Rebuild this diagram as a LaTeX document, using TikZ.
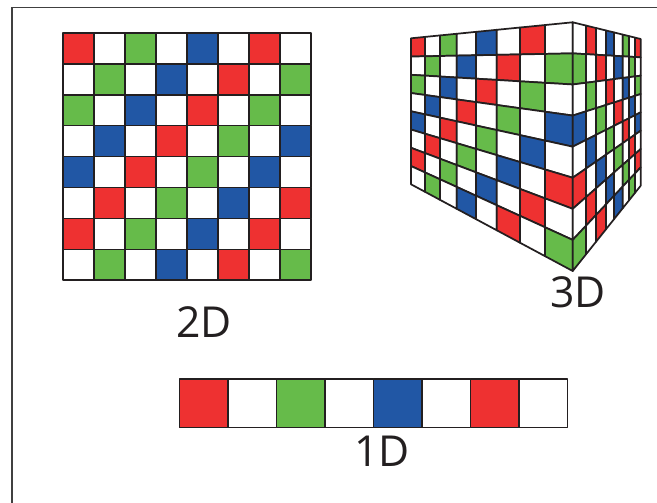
\documentclass[tikz,border=0pt]{standalone}
\usepackage{fontspec}
\setmainfont{Open Sans}
\definecolor{cR}{HTML}{EE3131}
\definecolor{cG}{HTML}{66BB4A}
\definecolor{cB}{HTML}{2157A5}
\definecolor{ln}{HTML}{231F20}
\newcommand{\pickcol}[1]{\ifcase#1\def\fc{cR}\or\def\fc{cG}\or\def\fc{cB}\fi}
\tikzset{
  cell/.style={draw=ln, line width=1.1pt, line join=round},
  cubecell/.style={draw=ln, line width=1.3pt, line join=round},
  lbl/.style={text=ln, font=\fontsize{32}{36}\selectfont, inner sep=0pt}
}
\begin{document}
\begin{tikzpicture}[x=0.75pt, y=-0.75pt]
\useasboundingbox (0,0) rectangle (657,503);
% frame
\draw[black!75, line width=0.8pt] (12,503) -- (12,7.5) -- (657,7.5);
% 2D grid
\foreach \r in {0,...,7}{
  \foreach \c in {0,...,7}{
    \pgfmathtruncatemacro\pty{mod(\r+\c,2)}
    \ifnum\pty=0
      \pgfmathtruncatemacro\k{mod((\r+\c)/2,3)}
      \pickcol{\k}
    \else \def\fc{white}\fi
    \draw[cell, fill=\fc] ({63+31*\c},{33+30.9*\r}) rectangle ++(31,30.9);
  }
}
% 1D strip
\foreach \c/\fc in {0/cR,1/white,2/cG,3/white,4/cB,5/white,6/cR,7/white}{
  \draw[cell, fill=\fc] ({179.3+48.5*\c},379) rectangle ++(48.5,48.7);
}
% 3D left face
\foreach \xa/\xb [count=\cc from 0] in {411/425,425/440,440/456.7,456.7/476,476/496.7,496.7/520,520/545,545/572.7}{
  \pgfmathsetmacro\ta{38.3-16*(\xa-411)/161.7}
  \pgfmathsetmacro\ba{184.3+86.7*(\xa-411)/161.7}
  \pgfmathsetmacro\tb{38.3-16*(\xb-411)/161.7}
  \pgfmathsetmacro\bb{184.3+86.7*(\xb-411)/161.7}
  \foreach \r in {0,...,7}{
    \pgfmathtruncatemacro\pty{mod(\r+\cc,2)}
    \ifnum\pty=0
      \pgfmathtruncatemacro\k{mod((\r+\cc)/2,3)}
      \pickcol{\k}
    \else \def\fc{white}\fi
    \draw[cubecell, fill=\fc]
      (\xa,{\ta+(\ba-\ta)*\r/8}) -- (\xb,{\tb+(\bb-\tb)*\r/8}) --
      (\xb,{\tb+(\bb-\tb)*(\r+1)/8}) -- (\xa,{\ta+(\ba-\ta)*(\r+1)/8}) -- cycle;
  }
}
% 3D right face (mirror of left face)
\foreach \xa/\xb [count=\cc from 0] in {572.7/586,586/596,596/606,606/614,614/622.7,622.7/629,629/635,635/640.7}{
  \pgfmathsetmacro\ta{22.3+16.7*(\xa-572.7)/68}
  \pgfmathsetmacro\ba{271-85.3*(\xa-572.7)/68}
  \pgfmathsetmacro\tb{22.3+16.7*(\xb-572.7)/68}
  \pgfmathsetmacro\bb{271-85.3*(\xb-572.7)/68}
  \pgfmathtruncatemacro\lc{7-\cc}
  \foreach \r in {0,...,7}{
    \pgfmathtruncatemacro\pty{mod(\r+\lc,2)}
    \ifnum\pty=0
      \pgfmathtruncatemacro\k{mod((\r+\lc)/2,3)}
      \pickcol{\k}
    \else \def\fc{white}\fi
    \draw[cubecell, fill=\fc]
      (\xa,{\ta+(\ba-\ta)*\r/8}) -- (\xb,{\tb+(\bb-\tb)*\r/8}) --
      (\xb,{\tb+(\bb-\tb)*(\r+1)/8}) -- (\xa,{\ta+(\ba-\ta)*(\r+1)/8}) -- cycle;
  }
}
% labels
\node[lbl] (l2) at (204,322) {2D};
\node[lbl] (l3) at (578,292) {3D};
\node[lbl] (l1) at (382,451) {1D};
\end{tikzpicture}
\end{document}
